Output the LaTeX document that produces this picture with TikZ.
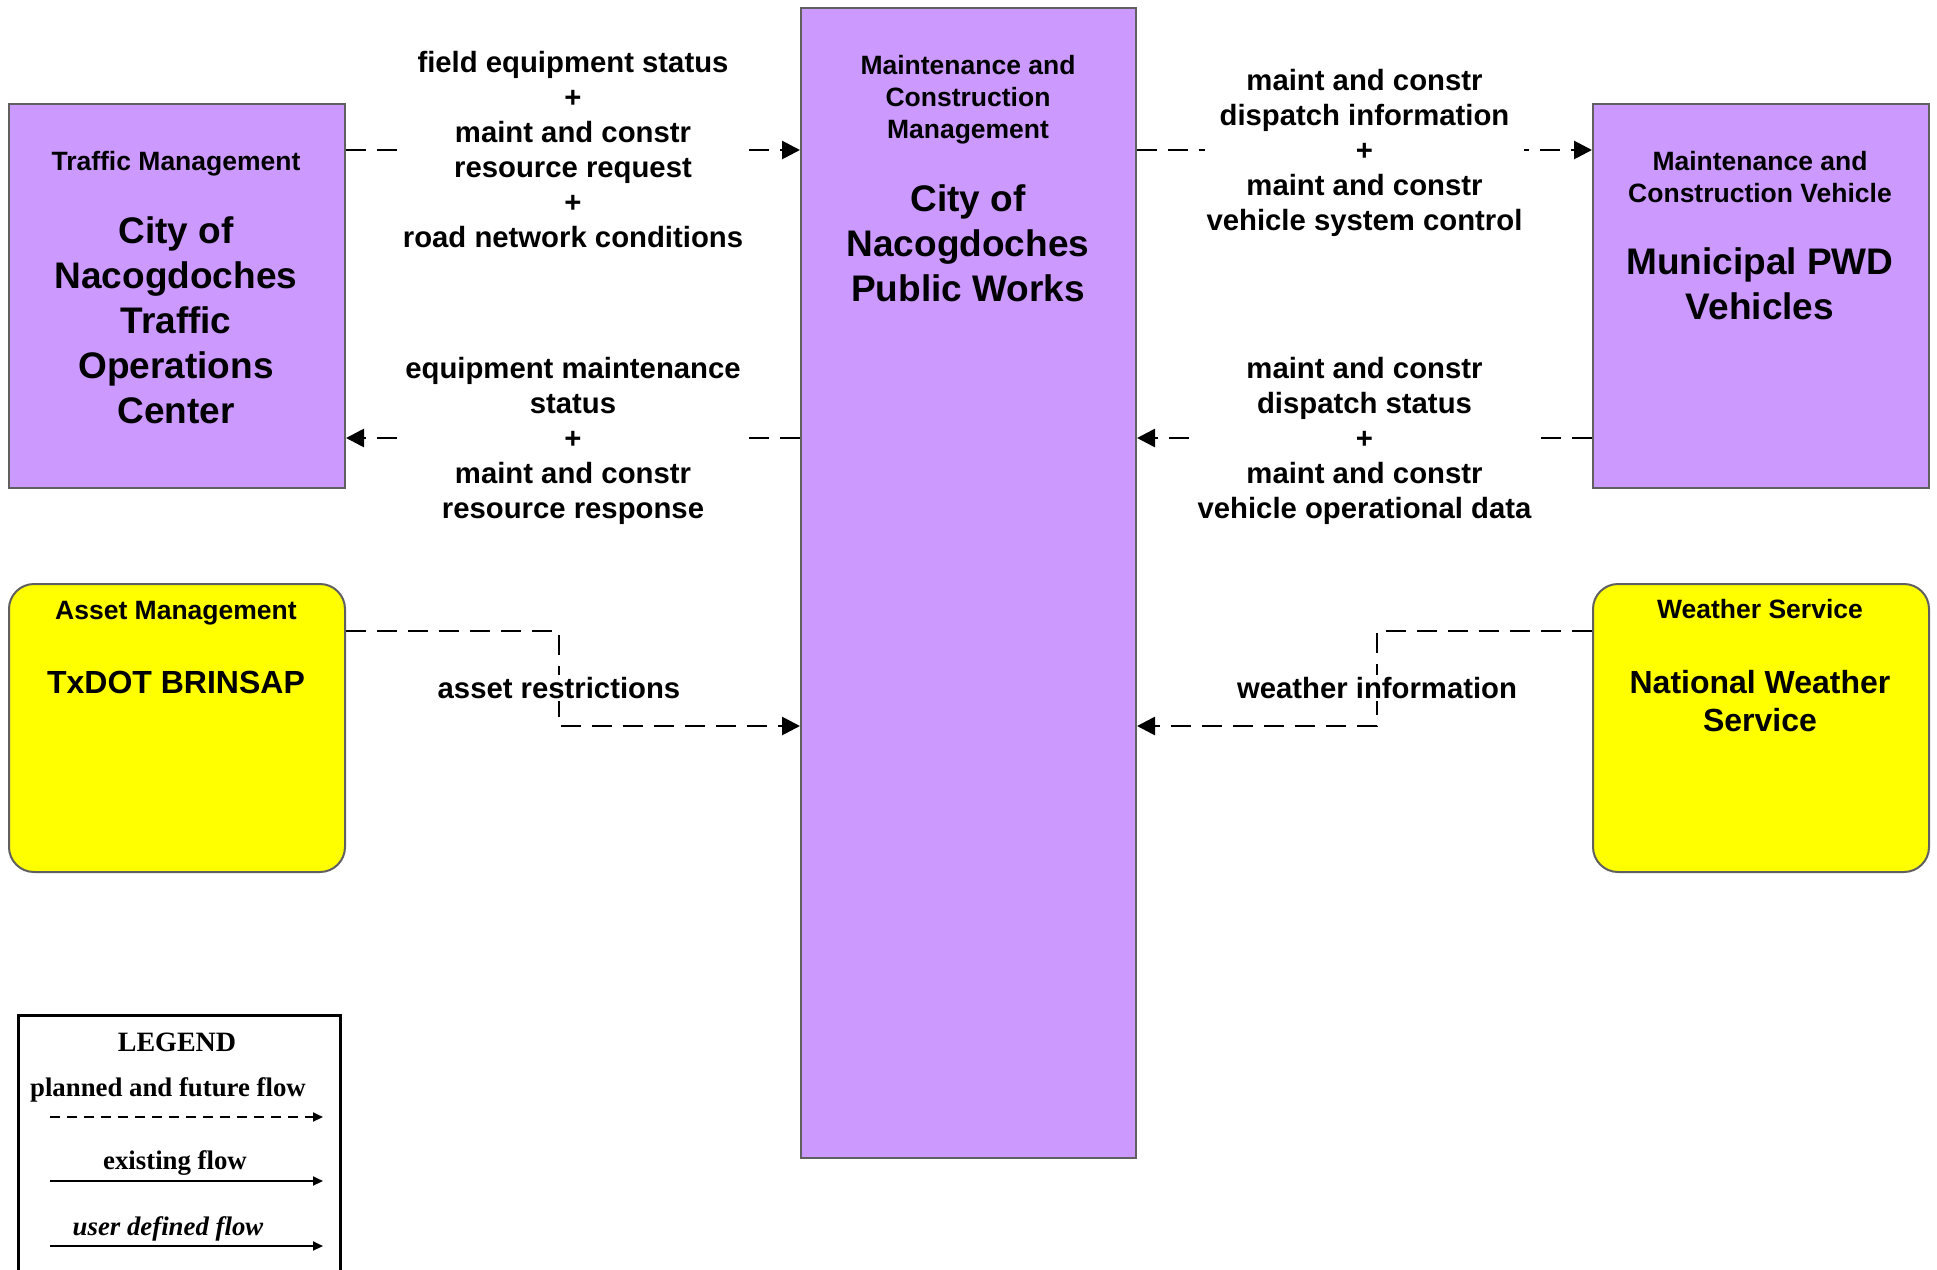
\documentclass[tikz,border=0pt]{standalone}
\usepackage{fontspec}
\setmainfont{Liberation Sans}
\newfontfamily\tnr{Liberation Serif}
\usetikzlibrary{arrows.meta}
\definecolor{pbox}{RGB}{204,153,255}
\definecolor{ybox}{RGB}{255,255,0}
\definecolor{bord}{RGB}{96,96,96}
\tikzset{
  boxa/.style={draw=bord, line width=1pt, anchor=north west, inner sep=0pt, rectangle},
  purp/.style={boxa, fill=pbox},
  yell/.style={boxa, fill=ybox, rounded corners=12.5pt},
  ttl/.style={font=\bfseries\fontsize{13.25}{16}\selectfont, align=center, inner sep=0pt},
  bigp/.style={font=\bfseries\fontsize{18.5}{22.5}\selectfont, align=center, inner sep=0pt},
  bigy/.style={font=\bfseries\fontsize{16}{19}\selectfont, align=center, inner sep=0pt},
  lab/.style={font=\bfseries\fontsize{14.65}{17.5}\selectfont, align=center, fill=white, inner sep=1pt},
  flow/.style={line width=1.4pt, dash pattern=on 10pt off 5.5pt, -{Triangle[length=9pt,width=9pt]}},
  legtxt/.style={font=\tnr\bfseries\fontsize{13.4}{16}\selectfont, inner sep=0pt},
  legarrow/.style={line width=1pt, -{Triangle[length=5pt,width=4.5pt]}}
}
\begin{document}
\begin{tikzpicture}[x=0.5pt,y=-0.5pt]
\useasboundingbox (0,0) rectangle (1937,1269);
\fill[white] (0,0) rectangle (1937,1269);
\clip (0,0) rectangle (1937,1269);

% boxes
\node[purp, minimum width=168pt, minimum height=192pt] (tm) at (8,103) {};
\node[purp, minimum width=167.5pt, minimum height=575pt] (pw) at (800,7) {};
\node[purp, minimum width=168pt, minimum height=192pt] (mcv) at (1592,103) {};
\node[yell, minimum width=168pt, minimum height=144pt] (as) at (8,583) {};
\node[yell, minimum width=168pt, minimum height=144pt] (ws) at (1592,583) {};

% box texts
\node[ttl] (tmt) at (176,164) {Traffic Management};
\node[bigp] (tmb) at (176,320) {City of\\Nacogdoches\\Traffic\\Operations\\Center};
\node[ttl] (pwt) at (968,100) {Maintenance and\\Construction\\Management};
\node[bigp] (pwb) at (968,243) {City of\\Nacogdoches\\Public Works};
\node[ttl] (mcvt) at (1760,177) {Maintenance and\\Construction Vehicle};
\node[bigp] (mcvb) at (1760,284) {Municipal PWD\\Vehicles};
\node[ttl] (ast) at (176,613) {Asset Management};
\node[bigy] (asb) at (176,682) {TxDOT BRINSAP};
\node[ttl] (wst) at (1760,609) {Weather Service};
\node[bigy] (wsb) at (1760,701) {National Weather\\Service};

% helper coordinates
\coordinate (ya) at (0,150);
\coordinate (yb) at (0,438);
\coordinate (yc) at (0,631);
\coordinate (yd) at (0,726);
\coordinate (ab) at (559,631);
\coordinate (wb) at (1377,631);

% flows
\draw[flow] (tm.east |- ya) -- (pw.west |- ya)
  node[lab, midway] (l1) {field equipment status\\+\\maint and constr\\resource request\\+\\road network conditions};
\draw[flow] (pw.west |- yb) -- (tm.east |- yb)
  node[lab, midway, yshift=-1.5pt] (l2) {equipment maintenance\\status\\+\\maint and constr\\resource response};
\draw[flow] (pw.east |- ya) -- (mcv.west |- ya)
  node[lab, midway, yshift=-1.5pt] (l3) {maint and constr\\dispatch information\\+\\maint and constr\\vehicle system control};
\draw[flow] (mcv.west |- yb) -- (pw.east |- yb)
  node[lab, midway, yshift=-1.5pt] (l4) {maint and constr\\dispatch status\\+\\maint and constr\\vehicle operational data};
\draw[flow] (as.east |- yc) -- (ab) -- (ab |- yd)
  node[lab, pos=0.6] (l5) {asset restrictions} -- (pw.west |- yd);
\draw[flow] (ws.west |- yc) -- (wb) -- (wb |- yd)
  node[lab, pos=0.6] (l6) {weather information} -- (pw.east |- yd);

% legend
\draw[line width=1.5pt] (18,1300) -- (18,1015) -- (340,1015) -- (340,1300);
\node[legtxt, font=\tnr\bfseries\fontsize{14}{16}\selectfont] (lgt) at (177,1042) {LEGEND};
\node[legtxt] (lg1) at (168,1090) {planned and future flow};
\node[legtxt] (lg2) at (175,1163) {existing flow};
\node[legtxt, font=\tnr\bfseries\itshape\fontsize{13.4}{16}\selectfont] (lg3) at (168,1229) {user defined flow};
\coordinate (la1) at (50,1117); \coordinate (lb1) at (323,1117);
\coordinate (la2) at (50,1181); \coordinate (lb2) at (323,1181);
\coordinate (la3) at (50,1246); \coordinate (lb3) at (323,1246);
\draw[legarrow, dash pattern=on 5pt off 3.5pt] (la1) -- (lb1);
\draw[legarrow] (la2) -- (lb2);
\draw[legarrow] (la3) -- (lb3);
\end{tikzpicture}
\end{document}
